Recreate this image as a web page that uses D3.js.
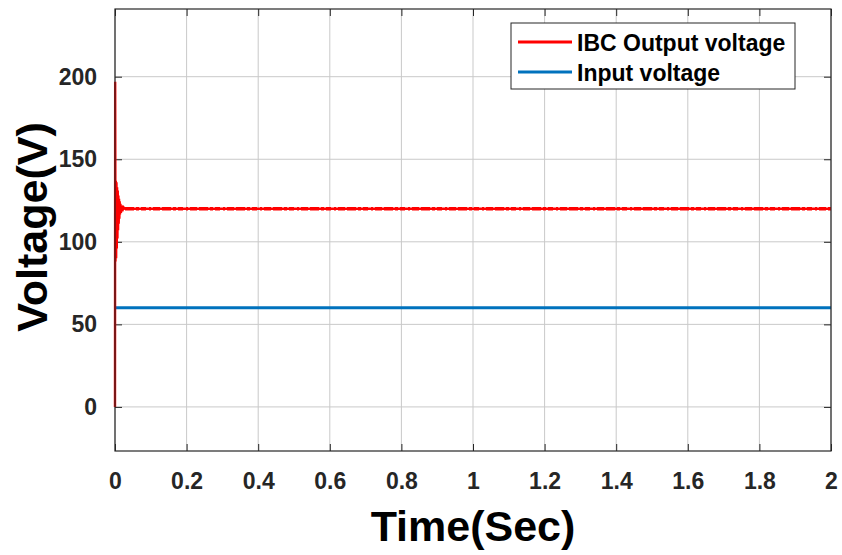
<!DOCTYPE html>
<html>
<head>
<meta charset="utf-8">
<script src="https://cdn.jsdelivr.net/npm/d3@7"></script>
<style>
  body { margin: 0; background: #fff; }
  svg { display: block; font-family: "Liberation Sans", Arial, sans-serif; }
</style>
</head>
<body>
<svg id="chart" width="842" height="555"></svg>
<script>
// data
const xTicks = [0, 0.2, 0.4, 0.6, 0.8, 1, 1.2, 1.4, 1.6, 1.8, 2];
const yTicks = [0, 50, 100, 150, 200];

// IBC output voltage: start-up transient, then steady state at ~120 V
const outTime = [0, 0.0005, 0.0014, 0.0023, 0.0032, 0.0041, 0.0050, 0.0059, 0.0068, 0.0077,
  0.0086, 0.0095, 0.0104, 0.0113, 0.0122, 0.0131, 0.0140, 0.0152, 0.0166, 0.0182, 0.0205, 0.0235, 0.0280, 2];
const outVolt = [0, 197, 88, 137, 90, 136, 96, 133, 102, 131, 107, 128, 111, 126, 114, 124.5, 116.5, 123, 117.5, 122, 118.5, 121, 120, 120];

// input voltage: constant 60 V
const inTime = [0, 2];
const inVolt = [60, 60];

const legendLabels = ['IBC Output voltage', 'Input voltage'];
const colors = ['#ff0000', '#0072bd'];

const svg = d3.select('#chart');
const margin = { top: 9, right: 11, bottom: 104, left: 115 };
const width = 842 - margin.left - margin.right;
const height = 555 - margin.top - margin.bottom;

const g = svg.append('g')
  .attr('transform', `translate(${margin.left},${margin.top})`);

const x = d3.scaleLinear().domain([0, 2]).range([0, width]);
const y = d3.scaleLinear().domain([-26.7, 241]).range([height, 0]);

// grid
g.append('g')
  .selectAll('line')
  .data(xTicks)
  .enter().append('line')
  .attr('x1', d => x(d)).attr('x2', d => x(d))
  .attr('y1', 0).attr('y2', height)
  .attr('stroke', '#c9c9c9').attr('stroke-width', 1);

g.append('g')
  .selectAll('line')
  .data(yTicks)
  .enter().append('line')
  .attr('x1', 0).attr('x2', width)
  .attr('y1', d => y(d)).attr('y2', d => y(d))
  .attr('stroke', '#c9c9c9').attr('stroke-width', 1);

// axes (ticks inward, on all four sides like matlab's box)
const axisStyle = sel => {
  sel.select('.domain').remove();
  sel.selectAll('.tick line').attr('stroke', '#262626');
  sel.selectAll('.tick text')
    .attr('fill', '#262626')
    .style('font-size', '23px')
    .style('font-weight', 'bold');
};

g.append('g')
  .attr('transform', `translate(0,${height})`)
  .call(d3.axisBottom(x).tickValues(xTicks).tickFormat(d3.format('~g')).tickSizeInner(-7).tickPadding(22))
  .call(axisStyle);

g.append('g')
  .call(d3.axisTop(x).tickValues(xTicks).tickFormat('').tickSizeInner(-7))
  .call(axisStyle);

g.append('g')
  .call(d3.axisLeft(y).tickValues(yTicks).tickSizeInner(-7).tickPadding(18))
  .call(axisStyle);

g.append('g')
  .attr('transform', `translate(${width},0)`)
  .call(d3.axisRight(y).tickValues(yTicks).tickFormat('').tickSizeInner(-7))
  .call(axisStyle);

const line = d3.line().x(d => x(d[0])).y(d => y(d[1]));

// input voltage
g.append('path')
  .datum(inTime.map((t, i) => [t, inVolt[i]]))
  .attr('d', line)
  .attr('fill', 'none')
  .attr('stroke', colors[1])
  .attr('stroke-width', 3);

// output voltage
const outData = outTime.map((t, i) => [t, outVolt[i]]);
g.append('path')
  .datum(outData)
  .attr('d', line)
  .attr('fill', 'none')
  .attr('stroke', colors[0])
  .attr('stroke-width', 2.4)
  .attr('stroke-linejoin', 'miter');

// ripple band look on the steady-state part
g.append('path')
  .datum(outData.slice(-2))
  .attr('d', line)
  .attr('fill', 'none')
  .attr('stroke', colors[0])
  .attr('stroke-width', 3.6)
  .attr('stroke-dasharray', '9 2 3 2 5 3 2 2 7 2');

// box
g.append('rect')
  .attr('width', width).attr('height', height)
  .attr('fill', 'none')
  .attr('stroke', '#262626')
  .attr('stroke-width', 1.2);

// axis labels
svg.append('text')
  .attr('x', margin.left + width / 2)
  .attr('y', 541)
  .attr('text-anchor', 'middle')
  .style('font-size', '43px')
  .style('font-weight', 'bold')
  .text('Time(Sec)');

svg.append('text')
  .attr('transform', 'translate(47,227) rotate(-90)')
  .attr('text-anchor', 'middle')
  .style('font-size', '43px')
  .style('font-weight', 'bold')
  .text('Voltage(V)');

// legend
const legend = svg.append('g').attr('transform', 'translate(511,23)');
legend.append('rect')
  .attr('width', 284).attr('height', 66)
  .attr('fill', '#fff')
  .attr('stroke', '#262626')
  .attr('stroke-width', 1);

legendLabels.forEach((label, i) => {
  const ly = 19 + i * 30;
  legend.append('line')
    .attr('x1', 7).attr('x2', 61)
    .attr('y1', ly).attr('y2', ly)
    .attr('stroke', colors[i])
    .attr('stroke-width', 3);
  legend.append('text')
    .attr('x', 66).attr('y', ly + 9)
    .style('font-size', '23px')
    .style('font-weight', 'bold')
    .text(label);
});
</script>
</body>
</html>
